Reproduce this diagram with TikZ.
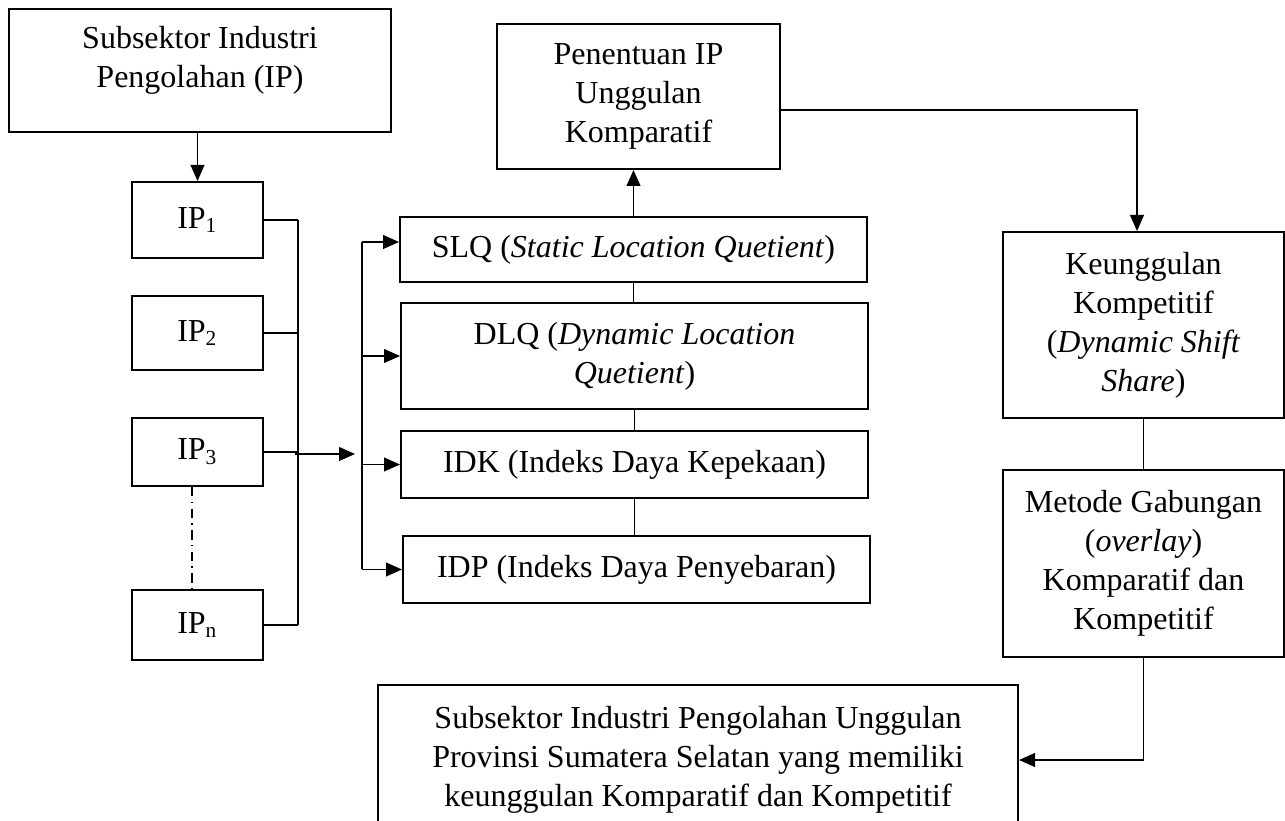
\documentclass[tikz,border=0pt]{standalone}
\usepackage{fontspec}
\setmainfont{Liberation Serif}
\usetikzlibrary{arrows.meta,calc}
\newlength{\pxu}
\setlength{\pxu}{0.375pt}

\begin{document}
\begin{tikzpicture}[x=\pxu, y=-\pxu,
    teks/.style={align=center, font=\fontsize{12}{14.6}\selectfont},
    kotak/.style={teks, draw, line width=0.75pt, inner sep=2pt},
    panah/.style={-{Triangle[length=6pt,width=5.2pt]}, line width=0.5pt},
    garis/.style={line width=0.5pt}]
    \useasboundingbox (0,0) rectangle (1285,821);
    % kolom kiri
    \node[kotak, minimum width=382\pxu, minimum height=123\pxu] (sub) at (200,70.5) {};
    \node[teks] (subteks) at (200,60) {Subsektor Industri\\Pengolahan (IP)};
    \foreach \i/\y/\h in {1/220/76, 2/333/74, 3/452/68, n/625/70}
        \node[kotak, minimum width=131\pxu, minimum height=\h\pxu] (ip\i) at (197.5,\y) {IP\textsubscript{\i}};
    % kolom tengah
    \node[kotak, minimum width=283\pxu, minimum height=145\pxu] (pen) at (638.5,96.5) {Penentuan IP\\Unggulan\\Komparatif};
    \node[kotak, minimum width=467\pxu, minimum height=65\pxu] (slq) at (633.5,249.5) {SLQ (\textit{Static Location Quetient})};
    \node[kotak, minimum width=467\pxu, minimum height=106\pxu] (dlq) at (634.5,356) {DLQ (\textit{Dynamic Location}\\\textit{Quetient})};
    \node[kotak, minimum width=467\pxu, minimum height=67\pxu] (idk) at (634.5,464.5) {IDK (Indeks Daya Kepekaan)};
    \node[kotak, minimum width=467\pxu, minimum height=67\pxu] (idp) at (636.5,569.5) {IDP (Indeks Daya Penyebaran)};
    % kolom kanan
    \node[kotak, minimum width=281\pxu, minimum height=186\pxu] (keu) at (1143.5,325) {Keunggulan\\Kompetitif\\(\textit{Dynamic Shift}\\\textit{Share})};
    \node[kotak, minimum width=281\pxu, minimum height=187\pxu] (met) at (1143.5,563.5) {Metode Gabungan\\(\textit{overlay})\\Komparatif dan\\Kompetitif};
    \node[kotak, minimum width=640\pxu, minimum height=150\pxu] (hasil) at (698,760) {Subsektor Industri Pengolahan Unggulan\\Provinsi Sumatera Selatan yang memiliki\\keunggulan Komparatif dan Kompetitif};
    % penghubung
    \coordinate (kanan) at (298,0);
    \coordinate (kiri) at (362,0);
    \coordinate (gabung) at (295,454);
    \coordinate (bagi) at (355,454);
    \draw[panah] (sub.south -| ip1.north) -- (ip1.north);
    \foreach \i in {1,2,3,n}
        \draw[garis] (ip\i.east) -- (ip\i.east -| kanan);
    \draw[garis] (ip1.east -| kanan) -- (ipn.east -| kanan);
    \draw[garis, dash pattern=on 3.5pt off 2pt on 0.6pt off 2pt] ([xshift=-5.5\pxu]ip3.south) -- ([xshift=-5.5\pxu]ipn.north);
    \draw[panah] (gabung) -- (bagi);
    \draw[garis] ([yshift=7.5\pxu]slq.west -| kiri) -- (idp.west -| kiri);
    \draw[panah] ([yshift=7.5\pxu]slq.west -| kiri) -- ([yshift=7.5\pxu]slq.west);
    \foreach \n in {dlq,idk,idp}
        \draw[panah] (\n.west -| kiri) -- (\n.west);
    \draw[garis] (slq.south) -- (slq.south |- dlq.north);
    \draw[garis] (dlq.south) -- (dlq.south |- idk.north);
    \draw[garis] (idk.south) -- (idk.south |- idp.north);
    \draw[panah] (slq.north) -- (slq.north |- pen.south);
    \draw[panah] ([yshift=-13.5\pxu]pen.east) -| ([xshift=-6.5\pxu]keu.north);
    \draw[garis] (keu.south) -- (met.north);
    \draw[panah] (met.south) |- (hasil.east);
\end{tikzpicture}
\end{document}
